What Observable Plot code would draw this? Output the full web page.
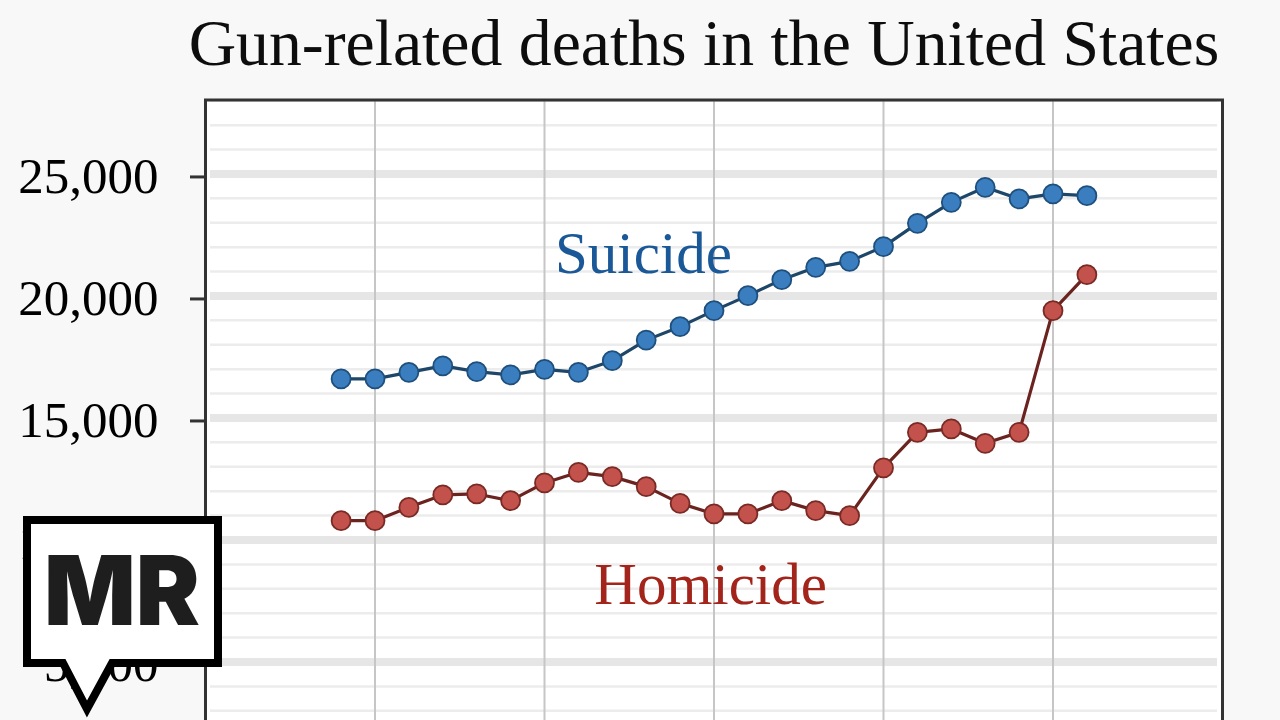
<!DOCTYPE html>
<html>
<head>
<meta charset="utf-8">
<script src="https://cdn.jsdelivr.net/npm/d3@7"></script>
<script src="https://cdn.jsdelivr.net/npm/@observablehq/plot@0.6"></script>
<style>
  html, body { margin: 0; padding: 0; background: #f8f8f8; overflow: hidden; }
  #wrap { position: relative; width: 1280px; height: 720px; overflow: hidden; }
  #title { position: absolute; top: 10px; left: 704px; transform: translateX(-50%); white-space: nowrap;
           font-family: "Liberation Serif", "Times New Roman", serif; font-size: 65.7px; line-height: 65px; color: #0d0d0d; }
  #chart { position: absolute; top: 0; left: 0; }
  #logo { position: absolute; top: 0; left: 0; pointer-events: none; }
</style>
</head>
<body>
<div id="wrap">
  <div id="chart"></div>
  <div id="title">Gun-related deaths in the United States</div>
  <svg id="logo" width="1280" height="720">
    <path d="M27,520 H218 V663 H112 L87,709 L63,663 H27 Z" fill="#ffffff" stroke="#000" stroke-width="8" stroke-linejoin="miter"/>
    <text x="122" y="625" text-anchor="middle" font-family="Inter, Roboto, 'DejaVu Sans', sans-serif" font-weight="900" font-size="96" fill="#1e1e1e">MR</text>
  </svg>
</div>
<script>
const years = [1999,2000,2001,2002,2003,2004,2005,2006,2007,2008,2009,2010,2011,2012,2013,2014,2015,2016,2017,2018,2019,2020,2021];
const suicide = [16599,16599,16870,17132,16898,16763,16992,16870,17349,18190,18742,19398,20013,20668,21172,21418,22021,22976,23836,24451,23976,24180,24111];
const homicide = [10792,10792,11337,11845,11886,11612,12337,12772,12595,12186,11501,11067,11067,11612,11202,10997,12952,14411,14550,13960,14411,19398,20873];
const yTicks = [5000,10000,15000,20000,25000];
const xTicks = [2000,2005,2010,2015,2020];
const minorTicks = d3.range(1000, 28001, 1000).filter(v => v % 5000 !== 0);

const suicideData = years.map((year, i) => ({year, value: suicide[i]}));
const homicideData = years.map((year, i) => ({year, value: homicide[i]}));

const plot = Plot.plot({
  width: 1280,
  height: 800,
  marginLeft: 205,
  marginRight: 58,
  marginTop: 99.5,
  marginBottom: 16.5,
  style: { fontFamily: "'Liberation Serif', 'Times New Roman', serif", fontSize: "51px", color: "#000", background: "transparent", overflow: "visible" },
  x: { domain: [1995, 2025], axis: null },
  y: { domain: [0, 28030], axis: null },
  marks: [
    Plot.frame({ fill: "#ffffff", stroke: null }),
    Plot.ruleY(minorTicks, { stroke: "#ececec", strokeWidth: 2.5, insetLeft: 5, insetRight: 5 }),
    Plot.ruleY(yTicks, { stroke: "#e6e6e6", strokeWidth: 8, insetLeft: 5, insetRight: 5 }),
    Plot.ruleX(xTicks, { stroke: "#c6c6c6", strokeWidth: 2 }),
    Plot.axisY({ ticks: yTicks, tickFormat: d3.format(","), label: null, tickSize: 15, tickPadding: 32, stroke: "#333", strokeWidth: 3, fill: "#000", dy: 3 }),
    Plot.line(suicideData, { x: "year", y: "value", stroke: "#1d4668", strokeWidth: 3.2 }),
    Plot.line(homicideData, { x: "year", y: "value", stroke: "#6b2320", strokeWidth: 3.2 }),
    Plot.dot(suicideData, { x: "year", y: "value", r: 9.5, fill: "#3a7ebf", stroke: "#1e4f7d", strokeWidth: 1.8 }),
    Plot.dot(homicideData, { x: "year", y: "value", r: 9.5, fill: "#c2524b", stroke: "#7a2a25", strokeWidth: 1.8 }),
    Plot.text(["Suicide"], { x: 2007.92, y: 20955, text: d => d, fill: "#1b5898", fontSize: 59, textAnchor: "middle", lineAnchor: "bottom" }),
    Plot.text(["Homicide"], { x: 2009.9, y: 7391, text: d => d, fill: "#a3241a", fontSize: 59, textAnchor: "middle", lineAnchor: "bottom" }),
    Plot.frame({ stroke: "#333", strokeWidth: 3, fill: null })
  ]
});
document.getElementById("chart").appendChild(plot);
</script>
</body>
</html>
